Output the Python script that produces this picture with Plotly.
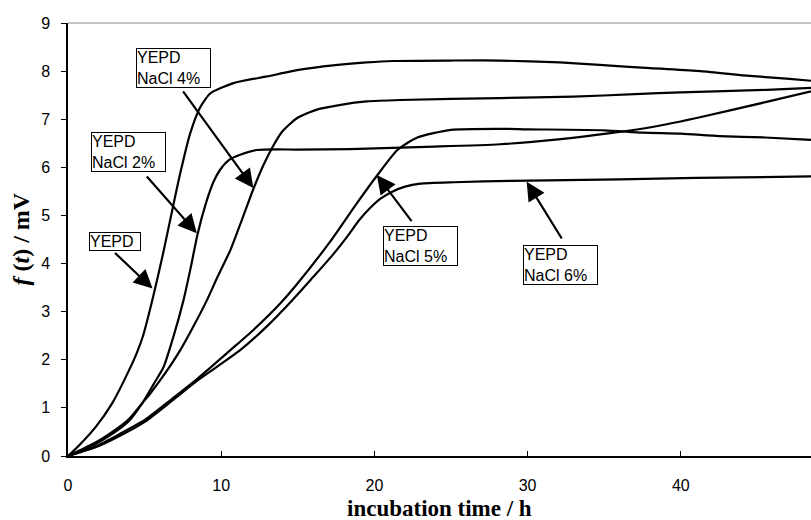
import plotly.graph_objects as go

# ---- data ----
yepd_t = [0, 0.72, 1.8, 2.89, 3.98, 4.5, 4.9, 5.55, 6.2, 6.7, 7.33, 7.98, 8.63, 9.3, 10.8, 13.0, 15.15, 17.3, 19.5, 21.2, 25.0, 28.2, 32.1, 34.7, 38.0, 41.3, 44.5, 47.1, 48.5]
yepd_v = [0, 0.22, 0.6, 1.1, 1.78, 2.15, 2.5, 3.3, 4.2, 4.95, 5.88, 6.71, 7.25, 7.54, 7.75, 7.89, 8.03, 8.12, 8.18, 8.21, 8.22, 8.22, 8.18, 8.13, 8.06, 8.0, 7.9, 7.84, 7.8]

nacl2_t = [0, 1.8, 2.89, 3.98, 4.85, 5.6, 6.24, 6.9, 7.54, 8.0, 8.45, 9.0, 9.5, 9.93, 10.5, 11.24, 12.33, 15.0, 18.4, 23.9, 28.2, 32.0, 35.4, 38.5, 41.25, 45.6, 48.5]
nacl2_v = [0, 0.25, 0.46, 0.73, 1.1, 1.5, 1.85, 2.5, 3.24, 3.9, 4.6, 5.25, 5.7, 5.95, 6.15, 6.26, 6.36, 6.37, 6.38, 6.43, 6.48, 6.58, 6.71, 6.86, 7.04, 7.36, 7.58]

nacl4_t = [0, 1.8, 2.89, 3.98, 4.85, 5.37, 6.3, 7.33, 8.2, 9.07, 9.8, 10.6, 11.4, 12.1, 12.76, 13.4, 14.0, 14.94, 16.24, 17.8, 19.5, 21.7, 28.2, 33.0, 37.0, 40.0, 45.6, 48.5]
nacl4_v = [0, 0.28, 0.5, 0.77, 1.1, 1.3, 1.7, 2.2, 2.7, 3.24, 3.75, 4.28, 4.95, 5.55, 6.05, 6.45, 6.75, 7.02, 7.2, 7.3, 7.37, 7.4, 7.44, 7.47, 7.52, 7.56, 7.61, 7.65]

nacl5_t = [0, 1.8, 3.33, 5.06, 6.8, 8.5, 10.6, 12.1, 13.85, 14.94, 17.1, 18.85, 20.2, 21.5, 22.8, 25.0, 28.2, 30.0, 35.0, 37.5, 40.0, 42.5, 45.5, 48.5]
nacl5_v = [0, 0.2, 0.45, 0.76, 1.19, 1.62, 2.2, 2.62, 3.17, 3.57, 4.45, 5.25, 5.84, 6.36, 6.62, 6.78, 6.8, 6.79, 6.77, 6.72, 6.70, 6.65, 6.62, 6.57]

nacl6_t = [0, 1.8, 3.33, 5.06, 6.8, 8.5, 11.24, 13.0, 14.7, 16.0, 17.2, 18.2, 19.0, 19.7, 20.4, 21.2, 22.0, 23.0, 25.2, 28.9, 36.0, 41.0, 48.5]
nacl6_v = [0, 0.18, 0.41, 0.72, 1.15, 1.58, 2.2, 2.7, 3.26, 3.72, 4.15, 4.55, 4.9, 5.15, 5.35, 5.5, 5.6, 5.66, 5.69, 5.72, 5.75, 5.78, 5.81]

x_ticks = [0, 10, 20, 30, 40]
y_ticks = [0, 1, 2, 3, 4, 5, 6, 7, 8, 9]

# labels: text, box centre (data), arrow tail (data), arrow tip (data)
label_text = ["YEPD", "YEPD<br>NaCl 2%", "YEPD<br>NaCl 4%", "YEPD<br>NaCl 5%", "YEPD<br>NaCl 6%"]
label_box_x = [3.1, 3.95, 6.9, 23.03, 32.13]
label_box_y = [4.46, 6.31, 8.06, 4.37, 3.96]
arrow_tail_x = [2.97, 5.06, 7.44, 22.5, 32.29]
arrow_tail_y = [4.25, 5.84, 7.61, 4.85, 4.49]
arrow_tip_x = [5.52, 8.41, 12.1, 20.16, 29.94]
arrow_tip_y = [3.48, 4.63, 5.57, 5.84, 5.70]
label_width = [50, 73, 73, 73, 73]

series = [(yepd_t, yepd_v, "YEPD"), (nacl2_t, nacl2_v, "NaCl 2%"), (nacl4_t, nacl4_v, "NaCl 4%"),
          (nacl5_t, nacl5_v, "NaCl 5%"), (nacl6_t, nacl6_v, "NaCl 6%")]

fig = go.Figure()
for t, v, name in series:
    fig.add_trace(go.Scatter(x=t, y=v, mode="lines", name=name,
                             line=dict(color="black", width=2.2, shape="spline", smoothing=0.6)))

ann = []
for i in range(len(label_text)):
    ann.append(dict(x=arrow_tip_x[i], y=arrow_tip_y[i], xref="x", yref="y",
                    ax=arrow_tail_x[i], ay=arrow_tail_y[i], axref="x", ayref="y",
                    text="", showarrow=True, arrowhead=2, arrowsize=1.7, arrowwidth=2.2,
                    arrowcolor="black", standoff=0))
    ann.append(dict(x=label_box_x[i], y=label_box_y[i], xref="x", yref="y",
                    text=label_text[i], showarrow=False, align="left", width=label_width[i],
                    font=dict(family="Liberation Sans, Arial", size=16, color="black"),
                    bgcolor="white", bordercolor="black", borderwidth=1, borderpad=0))

ann.append(dict(x=0.5, y=0, xref="paper", yref="paper", yanchor="middle", yshift=-52,
                text="<b>incubation time / h</b>", showarrow=False,
                font=dict(family="Liberation Serif, Times New Roman", size=23, color="black")))
ann.append(dict(x=0, y=0.5, xref="paper", yref="paper", xanchor="center", xshift=-48,
                text="<b><i>f</i> (<i>t</i>) / mV</b>", showarrow=False, textangle=-90,
                font=dict(family="Liberation Serif, Times New Roman", size=24, color="black")))

fig.update_layout(
    width=811, height=520,
    margin=dict(l=68, r=0, t=23, b=64),
    paper_bgcolor="white", plot_bgcolor="white",
    showlegend=False,
    annotations=ann,
    shapes=[dict(type="line", xref="paper", yref="paper", x0=0, x1=1, y0=1, y1=1,
                 line=dict(color="#888888", width=1))],
    font=dict(family="Liberation Sans, Arial", size=16, color="black"),
)
fig.update_xaxes(range=[0, 48.5], tickvals=x_ticks, ticks="inside", ticklen=5, tickcolor="black",
                 showline=True, linecolor="black", linewidth=1.5, showgrid=False, zeroline=False,
                 ticklabelstandoff=14, automargin=False,
                 tickfont=dict(family="Liberation Sans, Arial", size=16, color="black"))
fig.update_yaxes(range=[0, 9], tickvals=y_ticks, ticks="outside", ticklen=5, tickcolor="black",
                 showline=True, linecolor="black", linewidth=1.5, showgrid=False, zeroline=False,
                 ticklabelstandoff=8, automargin=False,
                 tickfont=dict(family="Liberation Sans, Arial", size=16, color="black"))

fig.write_html("out.html")
